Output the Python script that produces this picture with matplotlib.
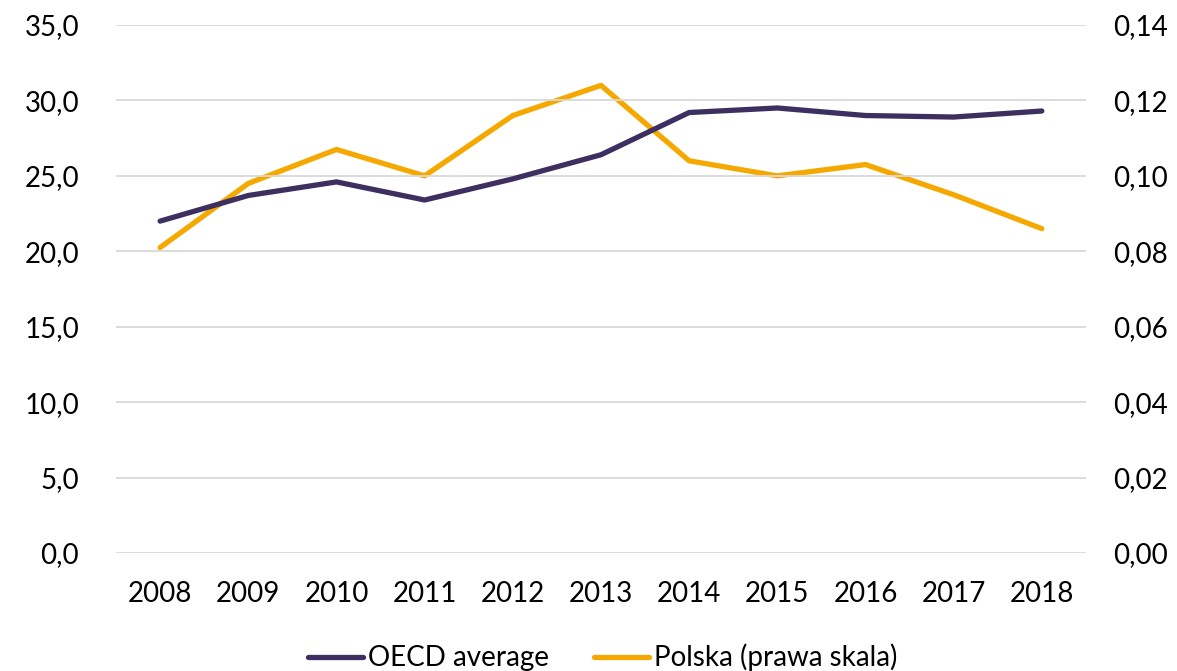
import matplotlib.pyplot as plt
from matplotlib.ticker import FuncFormatter

plt.rcParams['font.family'] = ['Lato', 'DejaVu Sans']

# Dane
lata = ['2008', '2009', '2010', '2011', '2012', '2013', '2014', '2015', '2016', '2017', '2018']
oecd = [22.0, 23.7, 24.6, 23.4, 24.8, 26.4, 29.2, 29.5, 29.0, 28.9, 29.3]
polska = [0.081, 0.098, 0.107, 0.100, 0.116, 0.124, 0.104, 0.100, 0.103, 0.095, 0.086]

fiolet = '#3d2f5f'
pomarancz = '#f5a800'

fig = plt.figure(figsize=(11.77, 6.71), dpi=100)
ax = fig.add_axes([0.0986, 0.1759, 0.824, 0.7868])
ax2 = ax.twinx()

x = range(len(lata))
l1, = ax.plot(x, oecd, color=fiolet, lw=3.8, solid_capstyle='round',
              solid_joinstyle='round', label='OECD average')
l2, = ax2.plot(x, polska, color=pomarancz, lw=3.8, solid_capstyle='round',
               solid_joinstyle='round', label='Polska (prawa skala)')

ax.set_xlim(-0.5, len(lata) - 0.5)
ax.set_ylim(0, 35)
ax2.set_ylim(0, 0.14)
ax.set_yticks([0, 5, 10, 15, 20, 25, 30, 35])
ax2.set_yticks([0, 0.02, 0.04, 0.06, 0.08, 0.10, 0.12, 0.14])
ax.yaxis.set_major_formatter(FuncFormatter(lambda v, p: f'{v:.1f}'.replace('.', ',')))
ax2.yaxis.set_major_formatter(FuncFormatter(lambda v, p: f'{v:.2f}'.replace('.', ',')))
ax.set_xticks(list(x))
ax.set_xticklabels(lata)

ax.grid(axis='y', color='#d9d9d9', lw=1.3)
ax.set_axisbelow(True)
for a in (ax, ax2):
    for s in a.spines.values():
        s.set_visible(False)
    a.tick_params(length=0, labelsize=20, colors='black')
ax.tick_params(axis='y', pad=26.5)
ax.tick_params(axis='x', pad=20)
ax2.tick_params(axis='y', pad=19.5)
ax.set_zorder(ax2.get_zorder() + 1)
ax.patch.set_visible(False)

fig.legend(handles=[l1, l2], loc='center', bbox_to_anchor=(0.512, 0.02), ncol=2,
           frameon=False, fontsize=20, handlelength=2.0, handletextpad=0.18,
           columnspacing=1.6)

fig.savefig('out.png', dpi=100)
